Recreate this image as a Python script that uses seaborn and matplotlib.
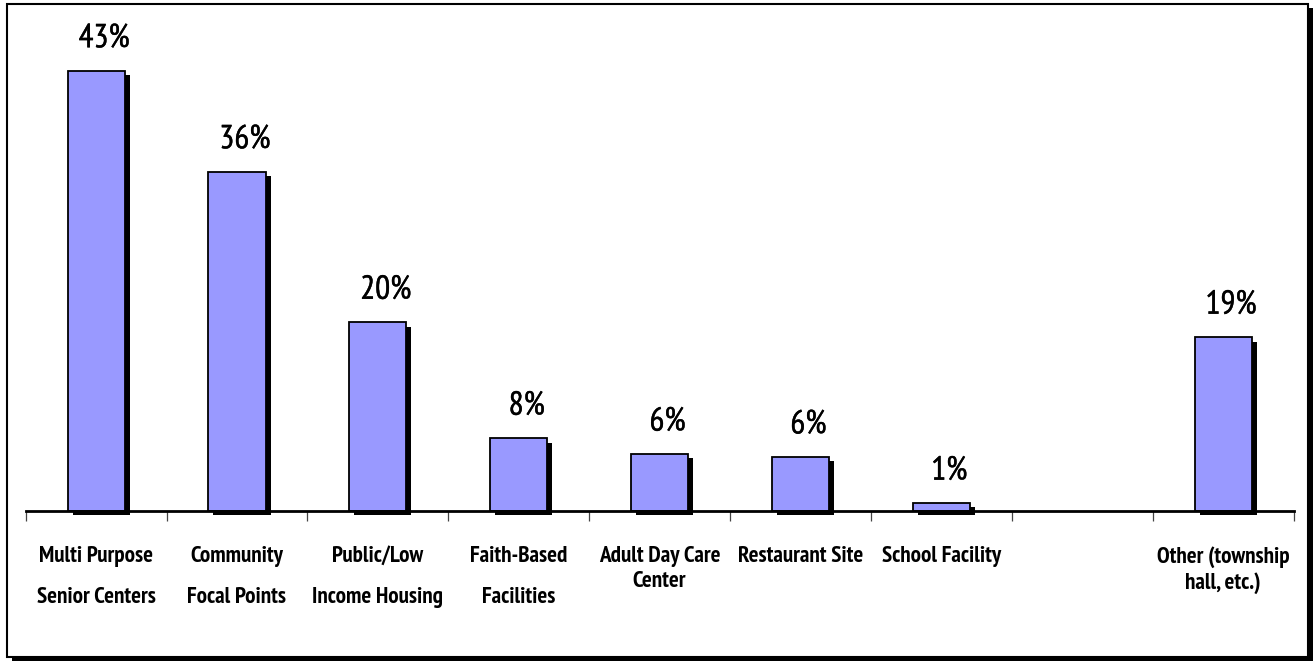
import matplotlib
matplotlib.use("Agg")
import matplotlib.pyplot as plt
import matplotlib.patheffects as pe
from matplotlib import font_manager as fm
from matplotlib.patches import Rectangle
import seaborn as sns
import pandas as pd

# ---- data ----
categories = [
    "Multi Purpose\nSenior Centers",
    "Community\nFocal Points",
    "Public/Low\nIncome Housing",
    "Faith-Based\nFacilities",
    "Adult Day Care\nCenter",
    "Restaurant Site",
    "School Facility",
    " ",
    "Other (township\nhall, etc.)",
]
bar_categories = [c for c in categories if c.strip()]
bar_heights = [47.1, 36.3, 20.2, 7.8, 6.1, 5.8, 0.85, 18.6]
value_labels = ["43%", "36%", "20%", "8%", "6%", "6%", "1%", "19%"]

W, H = 1314, 661
sns.set_theme(style="white")

# pick a narrow sans if one is installed, preferring one that has a bold face
cands = {}
for f in fm.fontManager.ttflist:
    n = f.name.lower()
    if ("narrow" in n or "condensed" in n) and "mono" not in n and "serif" not in n:
        w = f.weight if isinstance(f.weight, int) else (700 if "bold" in str(f.weight) else 400)
        cands.setdefault(f.name, set()).add(w)
narrow, has_bold = None, False
pref = sorted(cands, key=lambda nm: (not any(w >= 600 for w in cands[nm]),
                                      "narrow" not in nm.lower(), nm))
if pref:
    narrow = pref[0]
    has_bold = any(w >= 600 for w in cands[narrow])
families = ([narrow] if narrow else []) + ["Liberation Sans", "DejaVu Sans"]
plt.rcParams["font.family"] = families

fig = plt.figure(figsize=(W / 100, H / 100), dpi=100, facecolor="white")
renderer = fig.canvas.get_renderer()


def fit_size(text, base_size, weight, target_px):
    t = fig.text(0, 0, text, fontsize=base_size, fontweight=weight)
    w = t.get_window_extent(renderer).width
    t.remove()
    return base_size * target_px / w


cat_fs = fit_size("Multi Purpose", 15, "bold", 115)
val_fs = fit_size("43%", 21, "normal", 51)
heavy = [] if (has_bold or not narrow) else [pe.withStroke(linewidth=0.9, foreground="black")]
val_heavy = [pe.withStroke(linewidth=0.3, foreground="black")] if narrow else []

ax = fig.add_axes([25.7 / W, 150 / H, 1267.8 / W, 467.5 / H])
ax.set_facecolor("none")

df = pd.DataFrame({"category": bar_categories, "value": bar_heights})
sns.barplot(data=df, x="category", y="value", order=categories, color="#9999FF",
            saturation=1, width=0.405, edgecolor="black", linewidth=1.3, ax=ax)

shadow = [pe.SimplePatchShadow(offset=(3.6, -3.2), shadow_rgbFace="black", alpha=1.0), pe.Normal()]
for p in ax.patches:
    p.set_path_effects(shadow)
    p.set_clip_on(False)

ax.set_xlim(-0.5, len(categories) - 0.5)
ax.set_ylim(0, 50)

# value labels
pos = {c: i for i, c in enumerate(categories)}
for c, h, lab in zip(bar_categories, bar_heights, value_labels):
    ax.annotate(lab, xy=(pos[c], h), xytext=(5.8, 22.6), textcoords="offset points",
                ha="center", va="center", fontsize=val_fs, color="black",
                annotation_clip=False, path_effects=val_heavy)

# axis styling
for s in ["left", "top", "right"]:
    ax.spines[s].set_visible(False)
ax.spines["bottom"].set_color("black")
ax.spines["bottom"].set_linewidth(2)
ax.set_yticks([])
ax.set_xlabel("")
ax.set_ylabel("")
ax.set_xticks([i - 0.5 for i in range(len(categories) + 1)], minor=True)
ax.tick_params(axis="x", which="minor", bottom=True, length=7.2, width=0.9, color="#444444", direction="out")
ax.tick_params(axis="x", which="major", bottom=False, length=0, pad=25)
ax.set_xticks(range(len(categories)))
ax.set_xticklabels(categories, fontsize=cat_fs, fontweight="bold", color="black", va="top")
k = 15.0 / cat_fs
for i, t in enumerate(ax.get_xticklabels()):
    t.set_linespacing((2.5 if i < 4 else 1.42) * k)
    if heavy:
        t.set_path_effects(heavy)

# outer frame with shadow
frame = Rectangle((7 / W, 1 - 657 / H), 1301 / W, 653 / H, transform=fig.transFigure,
                  facecolor="white", edgecolor="black", linewidth=1.5, zorder=-5,
                  path_effects=[pe.SimplePatchShadow(offset=(3.6, -3.0), shadow_rgbFace="black", alpha=1.0),
                                pe.Normal()])
fig.patches.append(frame)

fig.savefig("out.png", dpi=100, facecolor="white")
